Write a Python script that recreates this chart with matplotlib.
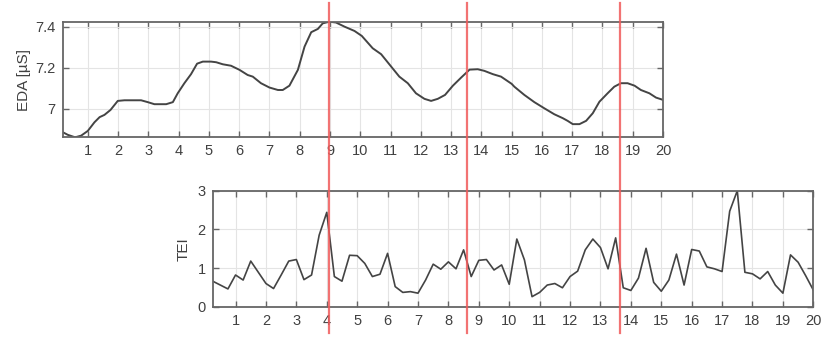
import matplotlib
matplotlib.use("Agg")
import matplotlib.pyplot as plt
from matplotlib.lines import Line2D
from matplotlib.transforms import blended_transform_factory

# EDA trace (top)
eda_t = [0.17, 0.34, 0.58, 0.78, 1.0, 1.22, 1.39, 1.55, 1.75, 1.99,
         2.21, 2.76, 2.98, 3.2, 3.59, 3.81, 3.97, 4.19, 4.41, 4.61,
         4.80, 5.07, 5.24, 5.46, 5.73, 6.01, 6.28, 6.45, 6.72, 7.0,
         7.28, 7.44, 7.66, 7.94, 8.16, 8.38, 8.60, 8.76, 8.98, 9.2,
         9.48, 9.81, 10.05, 10.14, 10.41, 10.69, 11.02, 11.29, 11.57, 11.84,
         12.12, 12.34, 12.56, 12.8, 13.06, 13.33, 13.61, 13.88, 14.1, 14.38,
         14.65, 15.0, 15.09, 15.42, 15.75, 16.08, 16.41, 16.69, 16.85, 17.02,
         17.24, 17.46, 17.68, 17.9, 18.17, 18.39, 18.61, 18.83, 19.06, 19.27,
         19.55, 19.77, 20.0]
eda_v = [6.887, 6.874, 6.862, 6.870, 6.893, 6.935, 6.960, 6.971, 6.995, 7.039,
         7.042, 7.042, 7.033, 7.023, 7.023, 7.033, 7.076, 7.125, 7.169, 7.220,
         7.230, 7.230, 7.227, 7.217, 7.210, 7.190, 7.165, 7.157, 7.125, 7.104,
         7.092, 7.092, 7.113, 7.190, 7.303, 7.373, 7.389, 7.416, 7.424, 7.420,
         7.400, 7.379, 7.355, 7.340, 7.295, 7.266, 7.206, 7.157, 7.125, 7.076,
         7.049, 7.039, 7.049, 7.068, 7.113, 7.152, 7.191, 7.193, 7.185, 7.169,
         7.157, 7.122, 7.108, 7.068, 7.033, 7.003, 6.974, 6.955, 6.942, 6.926,
         6.926, 6.942, 6.979, 7.035, 7.076, 7.108, 7.125, 7.125, 7.113, 7.092,
         7.076, 7.055, 7.044]

# TEI (bottom), one value every 0.25
tei_t = [0.25 * (k + 1) for k in range(80)]
tei_v = [0.66, 0.56, 0.46, 0.82, 0.69, 1.18, 0.89, 0.60, 0.47, 0.82,
         1.18, 1.22, 0.70, 0.82, 1.85, 2.44, 0.78, 0.66, 1.33, 1.32,
         1.12, 0.78, 0.84, 1.38, 0.52, 0.37, 0.39, 0.35, 0.69, 1.10,
         0.97, 1.16, 0.98, 1.47, 0.78, 1.20, 1.22, 0.95, 1.08, 0.58,
         1.75, 1.21, 0.26, 0.37, 0.56, 0.60, 0.49, 0.78, 0.92, 1.47,
         1.75, 1.53, 0.98, 1.78, 0.49, 0.42, 0.74, 1.51, 0.63, 0.40,
         0.69, 1.36, 0.56, 1.48, 1.44, 1.03, 0.98, 0.91, 2.47, 3.00,
         0.89, 0.85, 0.72, 0.91, 0.56, 0.35, 1.34, 1.15, 0.80, 0.43]

# event markers, in EDA time
events = [8.96, 13.54, 18.59]

xticks = list(range(1, 21))

plt.rcParams['font.family'] = ['Liberation Sans', 'DejaVu Sans']
plt.rcParams['font.size'] = 10.5

fig = plt.figure(figsize=(8.3, 3.43), dpi=100)
ax1 = fig.add_axes([0.0755, 0.5997, 0.7233, 0.3370])
ax2 = fig.add_axes([0.2563, 0.1058, 0.7236, 0.3382])

line_col = '#444444'
frame_col = '#666666'
txt_col = '#404040'

ax1.plot(eda_t, eda_v, color=line_col, lw=1.4)
ax1.set_xlim(0.17, 20)
ax1.set_ylim(6.862, 7.424)
ax1.set_yticks([7, 7.2, 7.4])
ax1.set_yticklabels(['7', '7.2', '7.4'])
ax1.set_ylabel('EDA [µS]', color=txt_col, fontsize=11, labelpad=3)

ax2.plot(tei_t, tei_v, color=line_col, lw=1.2)
ax2.set_xlim(0.25, 20)
ax2.set_ylim(0, 3)
ax2.set_yticks([0, 1, 2, 3])
ax2.set_ylabel('TEI', color=txt_col, fontsize=11, labelpad=5)

for ax in (ax1, ax2):
    ax.set_xticks(xticks)
    ax.grid(True, color='#e4e4e4', lw=0.8)
    ax.set_axisbelow(True)
    ax.tick_params(direction='in', top=True, right=True, length=4,
                   width=1, color=frame_col, labelcolor=txt_col, pad=5)
    for s in ax.spines.values():
        s.set_color(frame_col)
        s.set_linewidth(1.3)

tr = blended_transform_factory(ax1.transData, fig.transFigure)
for t in events:
    fig.add_artist(Line2D([t, t], [0.029, 0.991], transform=tr,
                          color='#f05a5a', lw=1.6, alpha=0.85))

fig.savefig('out.png', dpi=100)
